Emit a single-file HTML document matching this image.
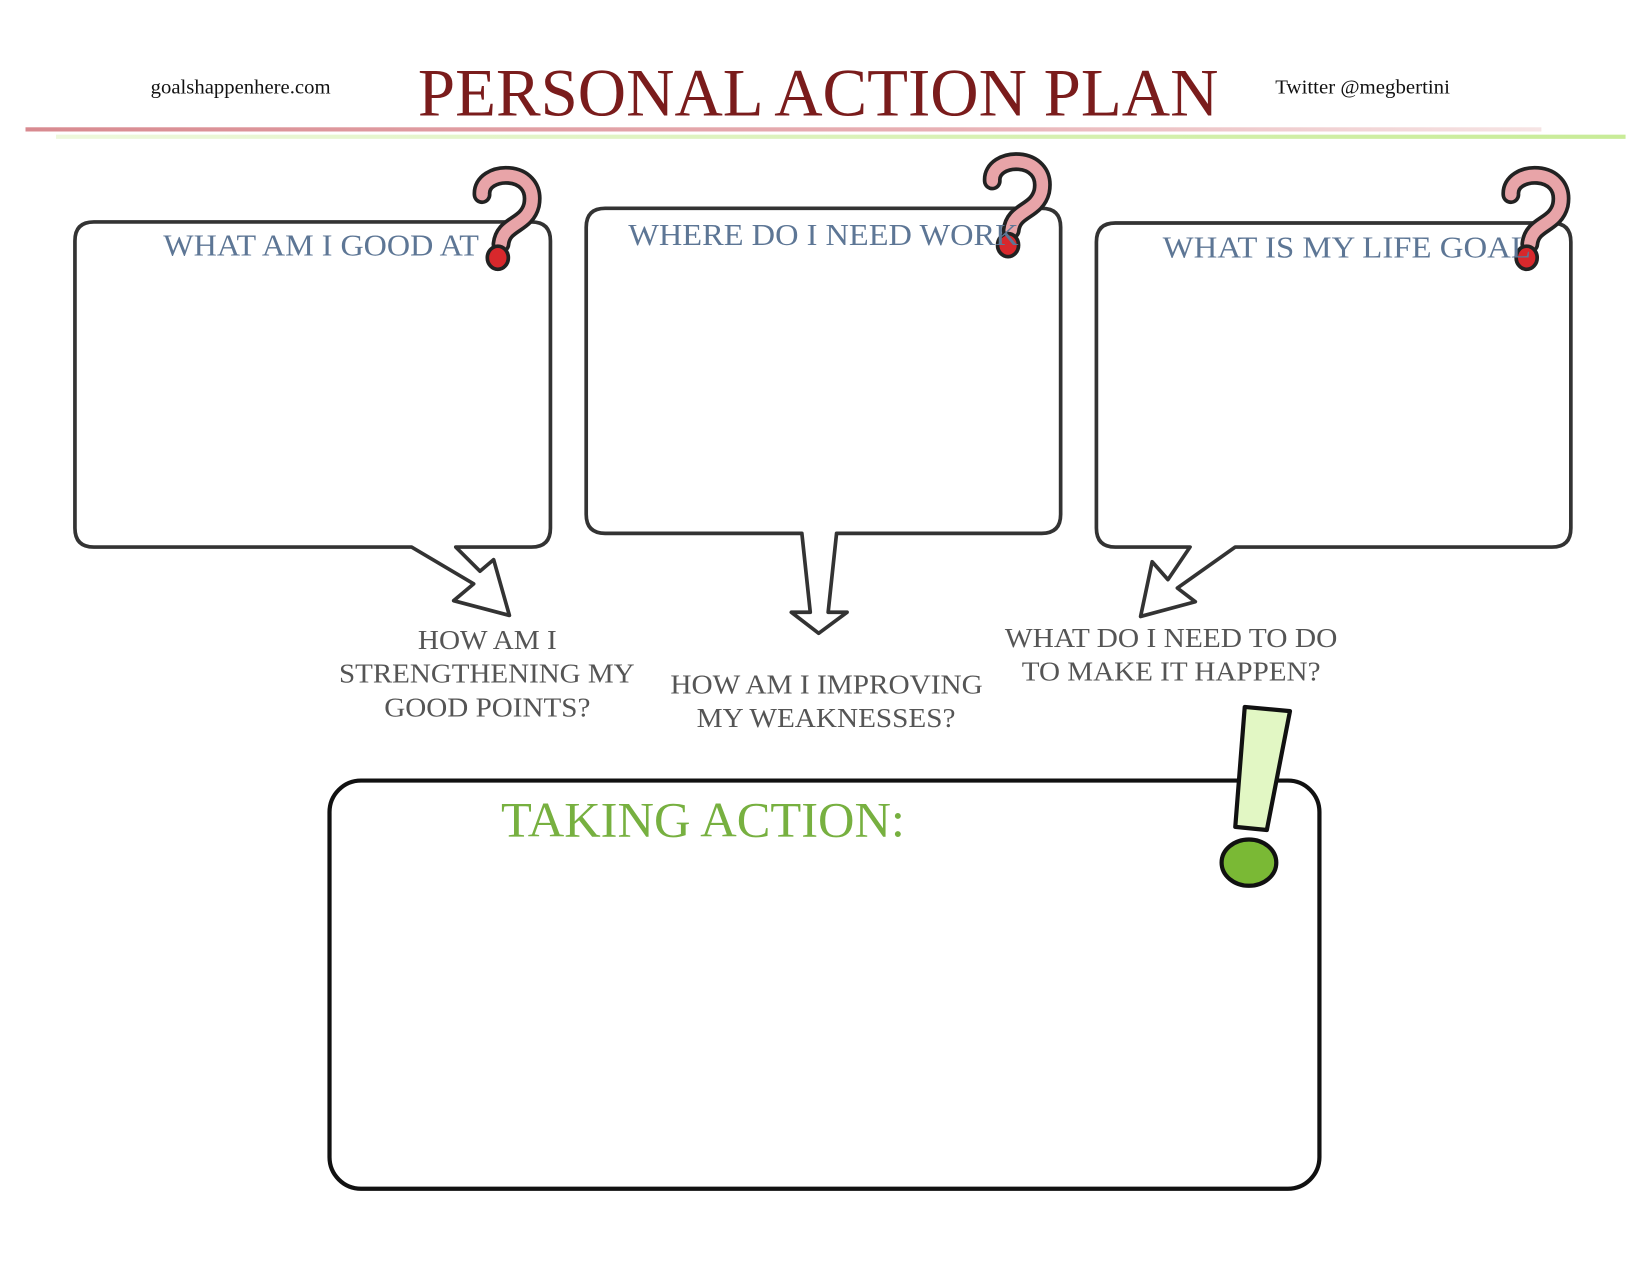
<!DOCTYPE html>
<html><head><meta charset="utf-8"><style>
html,body{margin:0;padding:0;background:#fff;}
svg{display:block;}
</style></head><body>
<svg width="1650" height="1275" viewBox="0 0 1568 1212" xmlns="http://www.w3.org/2000/svg" font-family="Liberation Serif, serif">
<defs>
<linearGradient id="rl" x1="0" x2="1"><stop offset="0" stop-color="#d88a90"/><stop offset="0.6" stop-color="#e8b0b4"/><stop offset="1" stop-color="#f6e4e4"/></linearGradient>
<linearGradient id="gl" x1="0" x2="1"><stop offset="0" stop-color="#eef8dc"/><stop offset="1" stop-color="#c8ec98"/></linearGradient>
</defs>
<rect width="1568" height="1212" fill="#fff"/>
<text x="143" y="89" font-size="19" fill="#111" textLength="171" lengthAdjust="spacingAndGlyphs">goalshappenhere.com</text>
<text x="397" y="110" font-size="64" fill="#7a1c1c" textLength="761" lengthAdjust="spacingAndGlyphs">PERSONAL ACTION PLAN</text>
<text x="1212" y="89" font-size="19" fill="#111" textLength="166" lengthAdjust="spacingAndGlyphs">Twitter @megbertini</text>
<rect x="24" y="121" width="1441" height="4" fill="url(#rl)"/>
<rect x="53" y="128" width="1492" height="4" fill="url(#gl)"/>

<g fill="#fff" stroke="#333" stroke-width="3.5" stroke-linejoin="round">
<path d="M89,211 H505 Q523,211 523,229 V502 Q523,520 505,520 H433 L456,543 L469,532 L484,585 L431,571 L450,555 L391,520 H89 Q71,520 71,502 V229 Q71,211 89,211 Z"/>
<path d="M575,198 H990 Q1008,198 1008,216 V489 Q1008,507 990,507 H795 L787,582 L805,582 L778,602 L752,582 L770,582 L762,507 H575 Q557,507 557,489 V216 Q557,198 575,198 Z"/>
<path d="M1060,212 H1475 Q1493,212 1493,230 V502 Q1493,520 1475,520 H1174 L1119,559 L1136,572 L1084,586 L1095,534 L1110,551 L1131,520 H1060 Q1042,520 1042,502 V230 Q1042,212 1060,212 Z"/>
</g>

<g fill="none" stroke-linecap="round">
<g>
<path d="M458,185 C456,160 512,158 505,195 C500,215 478,212 476,232" stroke="#222" stroke-width="18"/>
<path d="M458,185 C456,160 512,158 505,195 C500,215 478,212 476,232" stroke="#e8a4a8" stroke-width="11"/>
</g>
<g transform="translate(485,-13)">
<path d="M458,185 C456,160 512,158 505,195 C500,215 478,212 476,232" stroke="#222" stroke-width="18"/>
<path d="M458,185 C456,160 512,158 505,195 C500,215 478,212 476,232" stroke="#e8a4a8" stroke-width="11"/>
</g>
<g transform="translate(978,0)">
<path d="M458,185 C456,160 512,158 505,195 C500,215 478,212 476,232" stroke="#222" stroke-width="18"/>
<path d="M458,185 C456,160 512,158 505,195 C500,215 478,212 476,232" stroke="#e8a4a8" stroke-width="11"/>
</g>
</g>
<g fill="#d8282c" stroke="#222" stroke-width="3.5">
<ellipse cx="473" cy="245" rx="10" ry="11"/>
<ellipse cx="958" cy="233" rx="10" ry="11"/>
<ellipse cx="1451" cy="245" rx="10" ry="11"/>
</g>

<g font-size="29" fill="#5d7695">
<text x="155" y="243" textLength="300" lengthAdjust="spacingAndGlyphs">WHAT AM I GOOD AT</text>
<text x="597" y="233" textLength="371" lengthAdjust="spacingAndGlyphs">WHERE DO I NEED WORK</text>
<text x="1105" y="245" textLength="350" lengthAdjust="spacingAndGlyphs">WHAT IS MY LIFE GOAL</text>
</g>

<g font-size="26" fill="#555">
<text x="397" y="617" textLength="132" lengthAdjust="spacingAndGlyphs">HOW AM I</text>
<text x="322" y="649" textLength="281" lengthAdjust="spacingAndGlyphs">STRENGTHENING MY</text>
<text x="365" y="681" textLength="196" lengthAdjust="spacingAndGlyphs">GOOD POINTS?</text>
<text x="637" y="659" textLength="297" lengthAdjust="spacingAndGlyphs">HOW AM I IMPROVING</text>
<text x="662" y="691" textLength="246" lengthAdjust="spacingAndGlyphs">MY WEAKNESSES?</text>
<text x="955" y="615" textLength="316" lengthAdjust="spacingAndGlyphs">WHAT DO I NEED TO DO</text>
<text x="971" y="647" textLength="284" lengthAdjust="spacingAndGlyphs">TO MAKE IT HAPPEN?</text>
</g>

<rect x="313" y="742" width="941" height="388" rx="30" fill="#fff" stroke="#111" stroke-width="4"/>
<text x="476" y="795" font-size="47" fill="#77b040" textLength="384" lengthAdjust="spacingAndGlyphs">TAKING ACTION:</text>
<path d="M1183,672 L1226,676 L1204,789 L1174,786 Z" fill="#e2f7c4" stroke="#111" stroke-width="4" stroke-linejoin="round"/>
<ellipse cx="1187" cy="820" rx="26" ry="22" fill="#7ab935" stroke="#111" stroke-width="4"/>
</svg>
</body></html>
